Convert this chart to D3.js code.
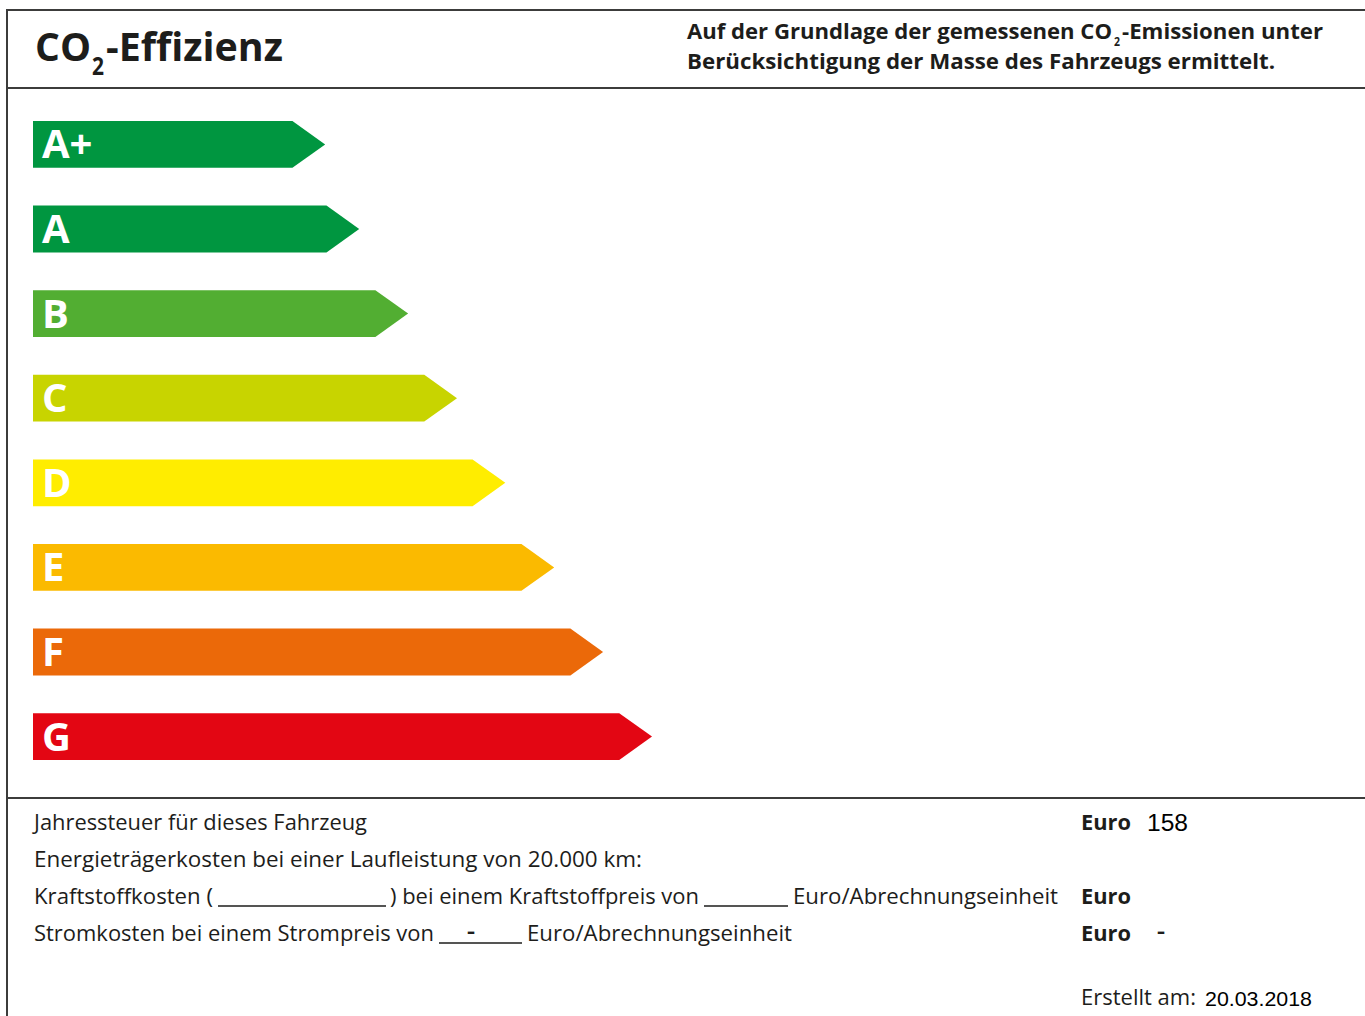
<!DOCTYPE html>
<html>
<head>
<meta charset="utf-8">
<script src="https://cdn.jsdelivr.net/npm/d3@7"></script>
<style>
  html, body { margin: 0; padding: 0; background: #fff; }
  svg { display: block; }
  text { font-family: "Open Sans", "Noto Sans", sans-serif; fill: #1d1d1b; }
  .num { font-family: "Liberation Sans", Arial, sans-serif; fill: #000; }
</style>
</head>
<body>
<svg id="label" width="1365" height="1016"></svg>
<script>
// efficiency classes, relative arrow length (percent of longest) and colours
var classes = ["A+", "A", "B", "C", "D", "E", "F", "G"];
var arrowLength = [47.2, 52.7, 60.6, 68.5, 76.3, 84.2, 92.1, 100];
var classColors = ["#009640", "#009640", "#52ae32", "#c8d400", "#ffed00", "#fbba00", "#eb6909", "#e30613"];

// values printed in the cost section
var jahressteuer = "158";
var strompreis = "-";
var stromkosten = "-";
var erstelltAm = "20.03.2018";

var svg = d3.select("#label");
var W = 1365, H = 1016;
var lineColor = "#3c3c3b";

//Frame and separators
svg.append("path")
    .attr("d", "M" + W + ",10 H7 V" + H)
    .attr("fill", "none")
    .attr("stroke", lineColor)
    .attr("stroke-width", 2);

[88, 798].forEach(function (y) {
    svg.append("line")
        .attr("x1", 7).attr("x2", W)
        .attr("y1", y).attr("y2", y)
        .attr("stroke", lineColor)
        .attr("stroke-width", 2);
});

//helper: text squeezed into a measured width
function txt(x, y, s, width, size, weight, cls) {
    var t = svg.append("text")
        .attr("x", x)
        .attr("y", y)
        .attr("font-size", size)
        .attr("font-weight", weight || 400)
        .text(s);
    if (cls) t.attr("class", cls);
    if (width) t.attr("textLength", width).attr("lengthAdjust", "spacingAndGlyphs");
    return t;
}

//Header
txt(35, 61, "CO", 56, 39, 700);
txt(92, 75, "2", 12, 25, 700);
txt(106, 61, "-Effizienz", 177, 39, 700);

txt(687, 39, "Auf der Grundlage der gemessenen CO", 425, 21, 700);
txt(1114, 46, "2", 6, 13, 700);
txt(1122, 39, "-Emissionen unter", 201, 21, 700);
txt(687, 69, "Berücksichtigung der Masse des Fahrzeugs ermittelt.", 588, 21, 700);

//Arrows
var y = d3.scaleBand()
    .domain(classes)
    .range([121, 760])
    .paddingInner(0.447)
    .paddingOuter(0);

var x = d3.scaleLinear()
    .domain([0, 100])
    .range([33, 652]);

var data = classes.map(function (c, i) {
    return { cls: c, len: arrowLength[i], color: classColors[i] };
});

function arrowPath(d) {
    var top = y(d.cls), h = y.bandwidth();
    var tip = x(d.len), body = tip - h * 0.7;
    return "M" + x(0) + "," + top +
        "H" + body +
        "L" + tip + "," + (top + h / 2) +
        "L" + body + "," + (top + h) +
        "H" + x(0) + "Z";
}

var arrows = svg.append("g").selectAll("g")
    .data(data)
    .enter().append("g");

arrows.append("path")
    .attr("d", arrowPath)
    .attr("fill", function (d) { return d.color; });

arrows.append("text")
    .attr("x", x(0) + 9)
    .attr("y", function (d) { return y(d.cls) + y.bandwidth() / 2 + 14; })
    .attr("font-size", 40)
    .attr("font-weight", 700)
    .style("fill", "#fff")
    .text(function (d) { return d.cls; });

//Cost section
var rowY = [830, 867, 904, 941];

txt(34, rowY[0], "Jahressteuer für dieses Fahrzeug", 333, 21);
txt(34, rowY[1], "Energieträgerkosten bei einer Laufleistung von 20.000 km:", 608, 21);

txt(34, rowY[2], "Kraftstoffkosten (", 179, 21);
txt(390, rowY[2], ") bei einem Kraftstoffpreis von", 309, 21);
txt(793, rowY[2], "Euro/Abrechnungseinheit", 265, 21);

txt(34, rowY[3], "Stromkosten bei einem Strompreis von", 400, 21);
txt(527, rowY[3], "Euro/Abrechnungseinheit", 265, 21);

//blank fields
[[218, 386, rowY[2]], [704, 788, rowY[2]], [439, 522, rowY[3]]].forEach(function (f) {
    svg.append("line")
        .attr("x1", f[0]).attr("x2", f[1])
        .attr("y1", f[2] + 2).attr("y2", f[2] + 2)
        .attr("stroke", "#1d1d1b")
        .attr("stroke-width", 1.3);
});
txt(467, rowY[3] - 3, strompreis, 8, 20, 700);

//Right column
[0, 2, 3].forEach(function (i) {
    txt(1081, rowY[i], "Euro", 50, 21, 700);
});
txt(1147, rowY[0] + 1, jahressteuer, 41, 24, 400, "num");
txt(1157, rowY[3] - 3, stromkosten, 8, 20, 700);

txt(1081, 1005, "Erstellt am:", 115, 21);
txt(1205, 1006, erstelltAm, 107, 20, 400, "num");
</script>
</body>
</html>
